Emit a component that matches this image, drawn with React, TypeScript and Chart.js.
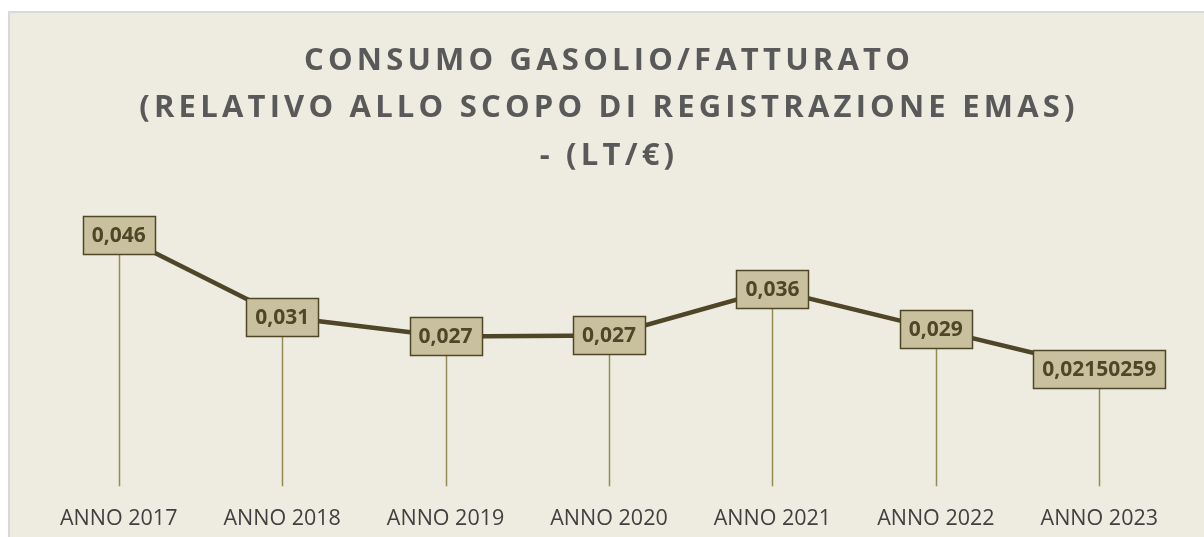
import React, { useEffect, useRef } from "react";
import { Chart, registerables } from "chart.js";

Chart.register(...registerables);

const categories = ["ANNO 2017", "ANNO 2018", "ANNO 2019", "ANNO 2020", "ANNO 2021", "ANNO 2022", "ANNO 2023"];
const values = [0.046, 0.031, 0.0274, 0.0276, 0.036, 0.0287, 0.02150259];
const valueLabels = ["0,046", "0,031", "0,027", "0,027", "0,036", "0,029", "0,02150259"];
const titleLines = ["CONSUMO GASOLIO/FATTURATO", "(RELATIVO ALLO SCOPO DI REGISTRAZIONE EMAS)"];
const subtitleText = "- (LT/€)";
const yMin = 0;
const yMax = 0.05;

const FONT = "'Open Sans', 'DejaVu Sans', sans-serif";
const TITLE_SPACING = "4.2px";

export default function App() {
  const canvasRef = useRef<HTMLCanvasElement | null>(null);

  useEffect(() => {
    const canvas = canvasRef.current;
    if (!canvas) return;

    const titleSpacing = {
      id: "titleSpacing",
      beforeDraw(chart: any) {
        chart.ctx.letterSpacing = TITLE_SPACING;
      },
      beforeDatasetsDraw(chart: any) {
        chart.ctx.letterSpacing = "0px";
      },
      afterDraw(chart: any) {
        chart.ctx.letterSpacing = "0px";
      },
    };

    const dropLines = {
      id: "dropLines",
      beforeDatasetsDraw(chart: any) {
        const ctx = chart.ctx;
        const meta = chart.getDatasetMeta(0);
        const yBase = chart.scales.y.getPixelForValue(yMin);
        ctx.save();
        ctx.strokeStyle = "#948a54";
        ctx.lineWidth = 1.5;
        ctx.beginPath();
        meta.data.forEach((pt: any) => {
          ctx.moveTo(Math.round(pt.x) + 0.5, pt.y);
          ctx.lineTo(Math.round(pt.x) + 0.5, yBase);
        });
        ctx.stroke();
        ctx.restore();
      },
    };

    const valueBoxes = {
      id: "valueBoxes",
      afterDatasetsDraw(chart: any) {
        const ctx = chart.ctx;
        const meta = chart.getDatasetMeta(0);
        ctx.save();
        ctx.letterSpacing = "0px";
        ctx.font = `bold 21px ${FONT}`;
        ctx.textAlign = "center";
        ctx.textBaseline = "middle";
        meta.data.forEach((pt: any, i: number) => {
          const text = valueLabels[i];
          const w = Math.round(ctx.measureText(text).width + 18);
          const h = 38;
          const x = Math.round(pt.x - w / 2) + 0.5;
          const y = Math.round(pt.y - h / 2) + 0.5;
          ctx.fillStyle = "#c9c19e";
          ctx.fillRect(x, y, w, h);
          ctx.strokeStyle = "#4f4628";
          ctx.lineWidth = 1.5;
          ctx.strokeRect(x, y, w, h);
          ctx.fillStyle = "#4f4628";
          ctx.fillText(text, pt.x, pt.y + 1);
        });
        ctx.restore();
      },
    };

    const chart = new Chart(canvas, {
      type: "line",
      data: {
        labels: categories,
        datasets: [
          {
            data: values,
            borderColor: "#4f4628",
            borderWidth: 4.5,
            pointRadius: 0,
            pointHoverRadius: 0,
            tension: 0,
            fill: false,
          },
        ],
      },
      options: {
        responsive: false,
        animation: false,
        events: [],
        layout: { padding: { left: 27, right: 23, top: 0, bottom: -15 } },
        plugins: {
          legend: { display: false },
          tooltip: { enabled: false },
          title: {
            display: true,
            text: titleLines,
            color: "#595959",
            font: { family: FONT, size: 31, weight: "bold", lineHeight: 47 / 31 },
            padding: { top: 24.5, bottom: 0 },
          },
          subtitle: {
            display: true,
            text: subtitleText,
            color: "#595959",
            font: { family: FONT, size: 31, weight: "bold", lineHeight: 1.2 },
            padding: { top: 6, bottom: 38.3 },
          },
        },
        scales: {
          x: {
            offset: true,
            grid: { display: false, drawTicks: false },
            border: { display: false },
            ticks: {
              z: 1,
              padding: 20,
              color: "#404040",
              font: { family: FONT, size: 21.5, lineHeight: 1.2 },
              maxRotation: 0,
              autoSkip: false,
            },
          },
          y: {
            display: false,
            min: yMin,
            max: yMax,
          },
        },
      },
      plugins: [titleSpacing, dropLines, valueBoxes],
    });

    return () => {
      chart.destroy();
    };
  }, []);

  return (
    <div
      style={{
        position: "fixed",
        left: 8,
        top: 11,
        width: 1196,
        height: 526,
        boxSizing: "border-box",
        borderTop: "2px solid #d9d9d9",
        borderLeft: "2px solid #d9d9d9",
        background: "#eeece1",
        overflow: "hidden",
      }}
    >
      <canvas ref={canvasRef} width={1194} height={524} style={{ display: "block" }} />
    </div>
  );
}
